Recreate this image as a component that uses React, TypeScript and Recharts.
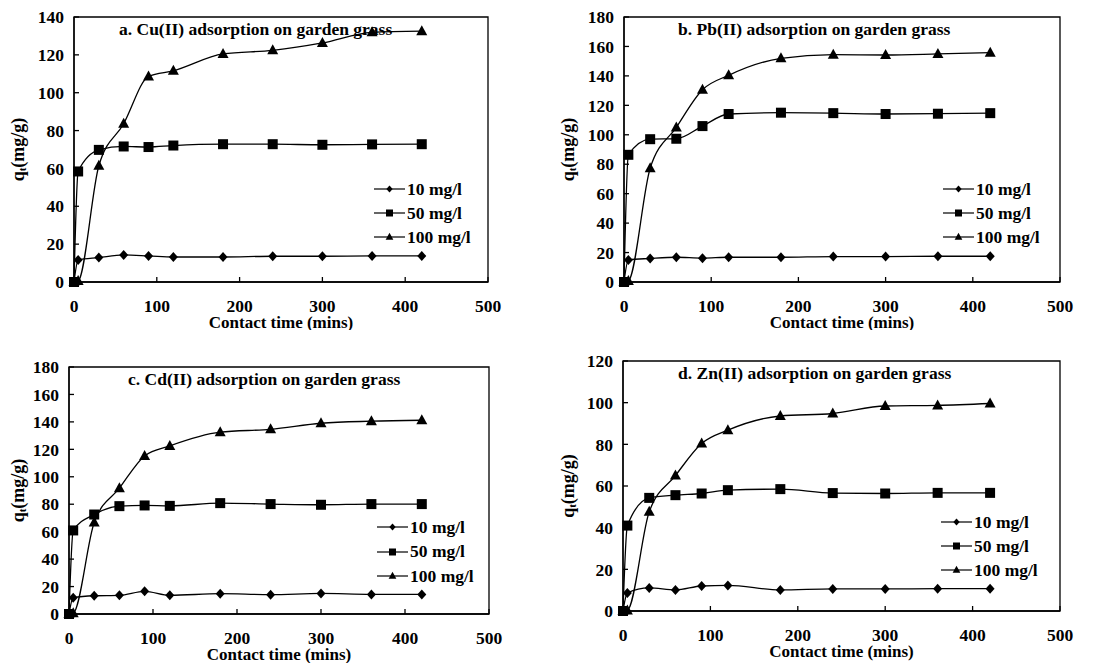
import React from "react";
import { LineChart, Line, XAxis, YAxis, ReferenceArea, Legend } from "recharts";

// contact time (mins)
const times = [0, 5, 30, 60, 90, 120, 180, 240, 300, 360, 420];
const seriesNames = ["10 mg/l", "50 mg/l", "100 mg/l"];
const xTicks = [0, 100, 200, 300, 400, 500];

// a. Cu(II)
const cu10 = [0, 11.6, 12.9, 14.3, 13.8, 13.2, 13.2, 13.6, 13.6, 13.8, 13.8];
const cu50 = [0, 58.4, 69.8, 71.6, 71.3, 72.1, 72.8, 72.8, 72.5, 72.7, 72.8];
const cu100 = [0, 0.5, 61.4, 83.6, 108.6, 111.6, 120.5, 122.4, 126.3, 131.9, 132.5];

// b. Pb(II)
const pb10 = [0, 15.0, 16.0, 16.8, 16.2, 16.8, 16.8, 17.3, 17.3, 17.5, 17.5];
const pb50 = [0, 86.4, 97.0, 97.3, 105.9, 114.1, 115.0, 114.7, 114.1, 114.3, 114.7];
const pb100 = [0, 0.7, 77.3, 105.0, 130.6, 140.4, 151.9, 154.4, 154.2, 154.9, 155.8];

// c. Cd(II)
const cd10 = [0, 11.9, 13.3, 13.6, 16.5, 13.6, 14.8, 14.1, 15.0, 14.3, 14.3];
const cd50 = [0, 60.9, 72.5, 78.6, 79.1, 78.8, 80.8, 80.1, 79.6, 80.1, 80.1];
const cd100 = [0, 0.5, 66.7, 91.7, 115.2, 122.5, 132.5, 134.6, 139.0, 140.5, 141.2];

// d. Zn(II)
const zn10 = [0, 8.7, 11.1, 10.1, 12.0, 12.3, 10.1, 10.6, 10.6, 10.7, 10.7];
const zn50 = [0, 41.0, 54.3, 55.6, 56.4, 58.0, 58.5, 56.6, 56.4, 56.7, 56.7];
const zn100 = [0, 0.3, 47.6, 65.0, 80.4, 86.8, 93.6, 94.8, 98.4, 98.7, 99.6];

const FONT = "'Liberation Serif', 'Times New Roman', serif";
const shapes = ["diamond", "square", "triangle"];

const makeRows = (s10: number[], s50: number[], s100: number[]) =>
  times.map((t, i) => ({ t, s10: s10[i], s50: s50[i], s100: s100[i] }));

const range = (max: number, step: number) => {
  const out: number[] = [];
  for (let v = 0; v <= max; v += step) out.push(v);
  return out;
};

const panels = [
  {
    title: "a. Cu(II) adsorption on garden grass",
    rows: makeRows(cu10, cu50, cu100),
    yMax: 140,
    box: { left: 0, top: 0, w: 553, h: 330 },
    margin: { top: 17, right: 65, bottom: 18, left: 30 },
    titlePos: { left: 119, cy: 29 },
    legendPos: { left: 374, top: 177, row: 24 },
  },
  {
    title: "b. Pb(II) adsorption on garden grass",
    rows: makeRows(pb10, pb50, pb100),
    yMax: 180,
    box: { left: 550, top: 0, w: 556, h: 330 },
    margin: { top: 17, right: 46, bottom: 18, left: 30 },
    titlePos: { left: 128, cy: 29 },
    legendPos: { left: 393, top: 177, row: 24 },
  },
  {
    title: "c. Cd(II) adsorption on garden grass",
    rows: makeRows(cd10, cd50, cd100),
    yMax: 180,
    box: { left: 0, top: 330, w: 553, h: 333 },
    margin: { top: 37, right: 64, bottom: 19, left: 25 },
    titlePos: { left: 128, cy: 49 },
    legendPos: { left: 377, top: 185, row: 24.5 },
  },
  {
    title: "d. Zn(II) adsorption on garden grass",
    rows: makeRows(zn10, zn50, zn100),
    yMax: 120,
    box: { left: 550, top: 330, w: 556, h: 333 },
    margin: { top: 31, right: 46, bottom: 22, left: 29 },
    titlePos: { left: 128, cy: 43 },
    legendPos: { left: 391, top: 180, row: 24 },
  },
];

const Marker = ({ shape, cx, cy, s = 1 }: { shape: string; cx: number; cy: number; s?: number }) => {
  if (cx == null || cy == null) return null;
  if (shape === "diamond")
    return (
      <polygon
        points={`${cx},${cy - 5 * s} ${cx + 4.5 * s},${cy} ${cx},${cy + 5 * s} ${cx - 4.5 * s},${cy}`}
        fill="#000"
      />
    );
  if (shape === "square") return <rect x={cx - 5 * s} y={cy - 5 * s} width={10 * s} height={10 * s} fill="#000" />;
  return (
    <polygon points={`${cx},${cy - 6 * s} ${cx + 5.5 * s},${cy + 4 * s} ${cx - 5.5 * s},${cy + 4 * s}`} fill="#000" />
  );
};

const YTitle = ({ viewBox }: any) => {
  const cx = 18;
  const cy = viewBox.y + viewBox.height / 2;
  return (
    <text
      x={cx}
      y={cy}
      transform={`rotate(-90 ${cx} ${cy})`}
      textAnchor="middle"
      dominantBaseline="central"
      fontFamily={FONT}
      fontWeight="bold"
      fontSize={18}
      fill="#000"
    >
      q
      <tspan fontSize={11} dy={4}>t</tspan>
      <tspan dy={-4}>(mg/g)</tspan>
    </text>
  );
};

const XTitle = ({ viewBox }: any) => (
  <text
    x={viewBox.x + viewBox.width / 2}
    y={viewBox.y + 40}
    textAnchor="middle"
    dominantBaseline="central"
    fontFamily={FONT}
    fontWeight="bold"
    fontSize={17}
    fill="#000"
  >
    Contact time (mins)
  </text>
);

const LegendBox = ({ row }: { row: number }) => (
  <div style={{ fontFamily: FONT, fontWeight: "bold", fontSize: 17.5, color: "#000" }}>
    {seriesNames.map((name, i) => (
      <div key={name} style={{ height: row, display: "flex", alignItems: "center", whiteSpace: "nowrap" }}>
        <svg width={32} height={14} style={{ display: "block" }}>
          <line x1={0} y1={7} x2={31} y2={7} stroke="#000" strokeWidth={1.2} />
          <Marker shape={shapes[i]} cx={15.5} cy={7} s={0.7} />
        </svg>
        <span style={{ marginLeft: 1 }}>{name}</span>
      </div>
    ))}
  </div>
);

const tickStyle = { fontFamily: FONT, fontWeight: "bold", fontSize: 17.5, fill: "#000" };

function Panel({ p }: { p: (typeof panels)[number] }) {
  const keys = ["s10", "s50", "s100"];
  return (
    <div style={{ position: "absolute", left: p.box.left, top: p.box.top, width: p.box.w, height: p.box.h }}>
      <LineChart width={p.box.w} height={p.box.h} data={p.rows} margin={p.margin}>
        <XAxis
          type="number"
          dataKey="t"
          domain={[0, 500]}
          ticks={xTicks}
          interval={0}
          height={30}
          tickSize={-5}
          tickMargin={23}
          tick={tickStyle}
          stroke="#000"
          strokeWidth={1.3}
          label={<XTitle />}
        />
        <YAxis
          type="number"
          domain={[0, p.yMax]}
          ticks={range(p.yMax, 20)}
          interval={0}
          width={44}
          tickSize={-5}
          tickMargin={15}
          tick={tickStyle}
          stroke="#000"
          strokeWidth={1.3}
          label={<YTitle />}
        />
        <ReferenceArea x1={0} x2={500} y1={0} y2={p.yMax} fill="none" stroke="#000" strokeWidth={1.3} />
        {keys.map((k, i) => (
          <Line
            key={k}
            dataKey={k}
            name={seriesNames[i]}
            type="monotone"
            stroke="#000"
            strokeWidth={1.3}
            isAnimationActive={false}
            dot={(d: any) => <Marker key={`${k}-${d.index}`} shape={shapes[i]} cx={d.cx} cy={d.cy} />}
            activeDot={false}
          />
        ))}
        <Legend
          layout="horizontal"
          align="center"
          verticalAlign="middle"
          content={() => <LegendBox row={p.legendPos.row} />}
          wrapperStyle={{ left: p.legendPos.left, top: p.legendPos.top, width: 150, height: "auto" }}
        />
      </LineChart>
      <div
        style={{
          position: "absolute",
          left: p.titlePos.left,
          top: p.titlePos.cy - 11,
          height: 22,
          lineHeight: "22px",
          fontFamily: FONT,
          fontWeight: "bold",
          fontSize: 17.5,
          whiteSpace: "nowrap",
          color: "#000",
        }}
      >
        {p.title}
      </div>
    </div>
  );
}

export default function App() {
  return (
    <div style={{ position: "absolute", left: 0, top: 0, width: 1106, height: 663, background: "#fff" }}>
      {panels.map((p) => (
        <Panel key={p.title} p={p} />
      ))}
    </div>
  );
}
